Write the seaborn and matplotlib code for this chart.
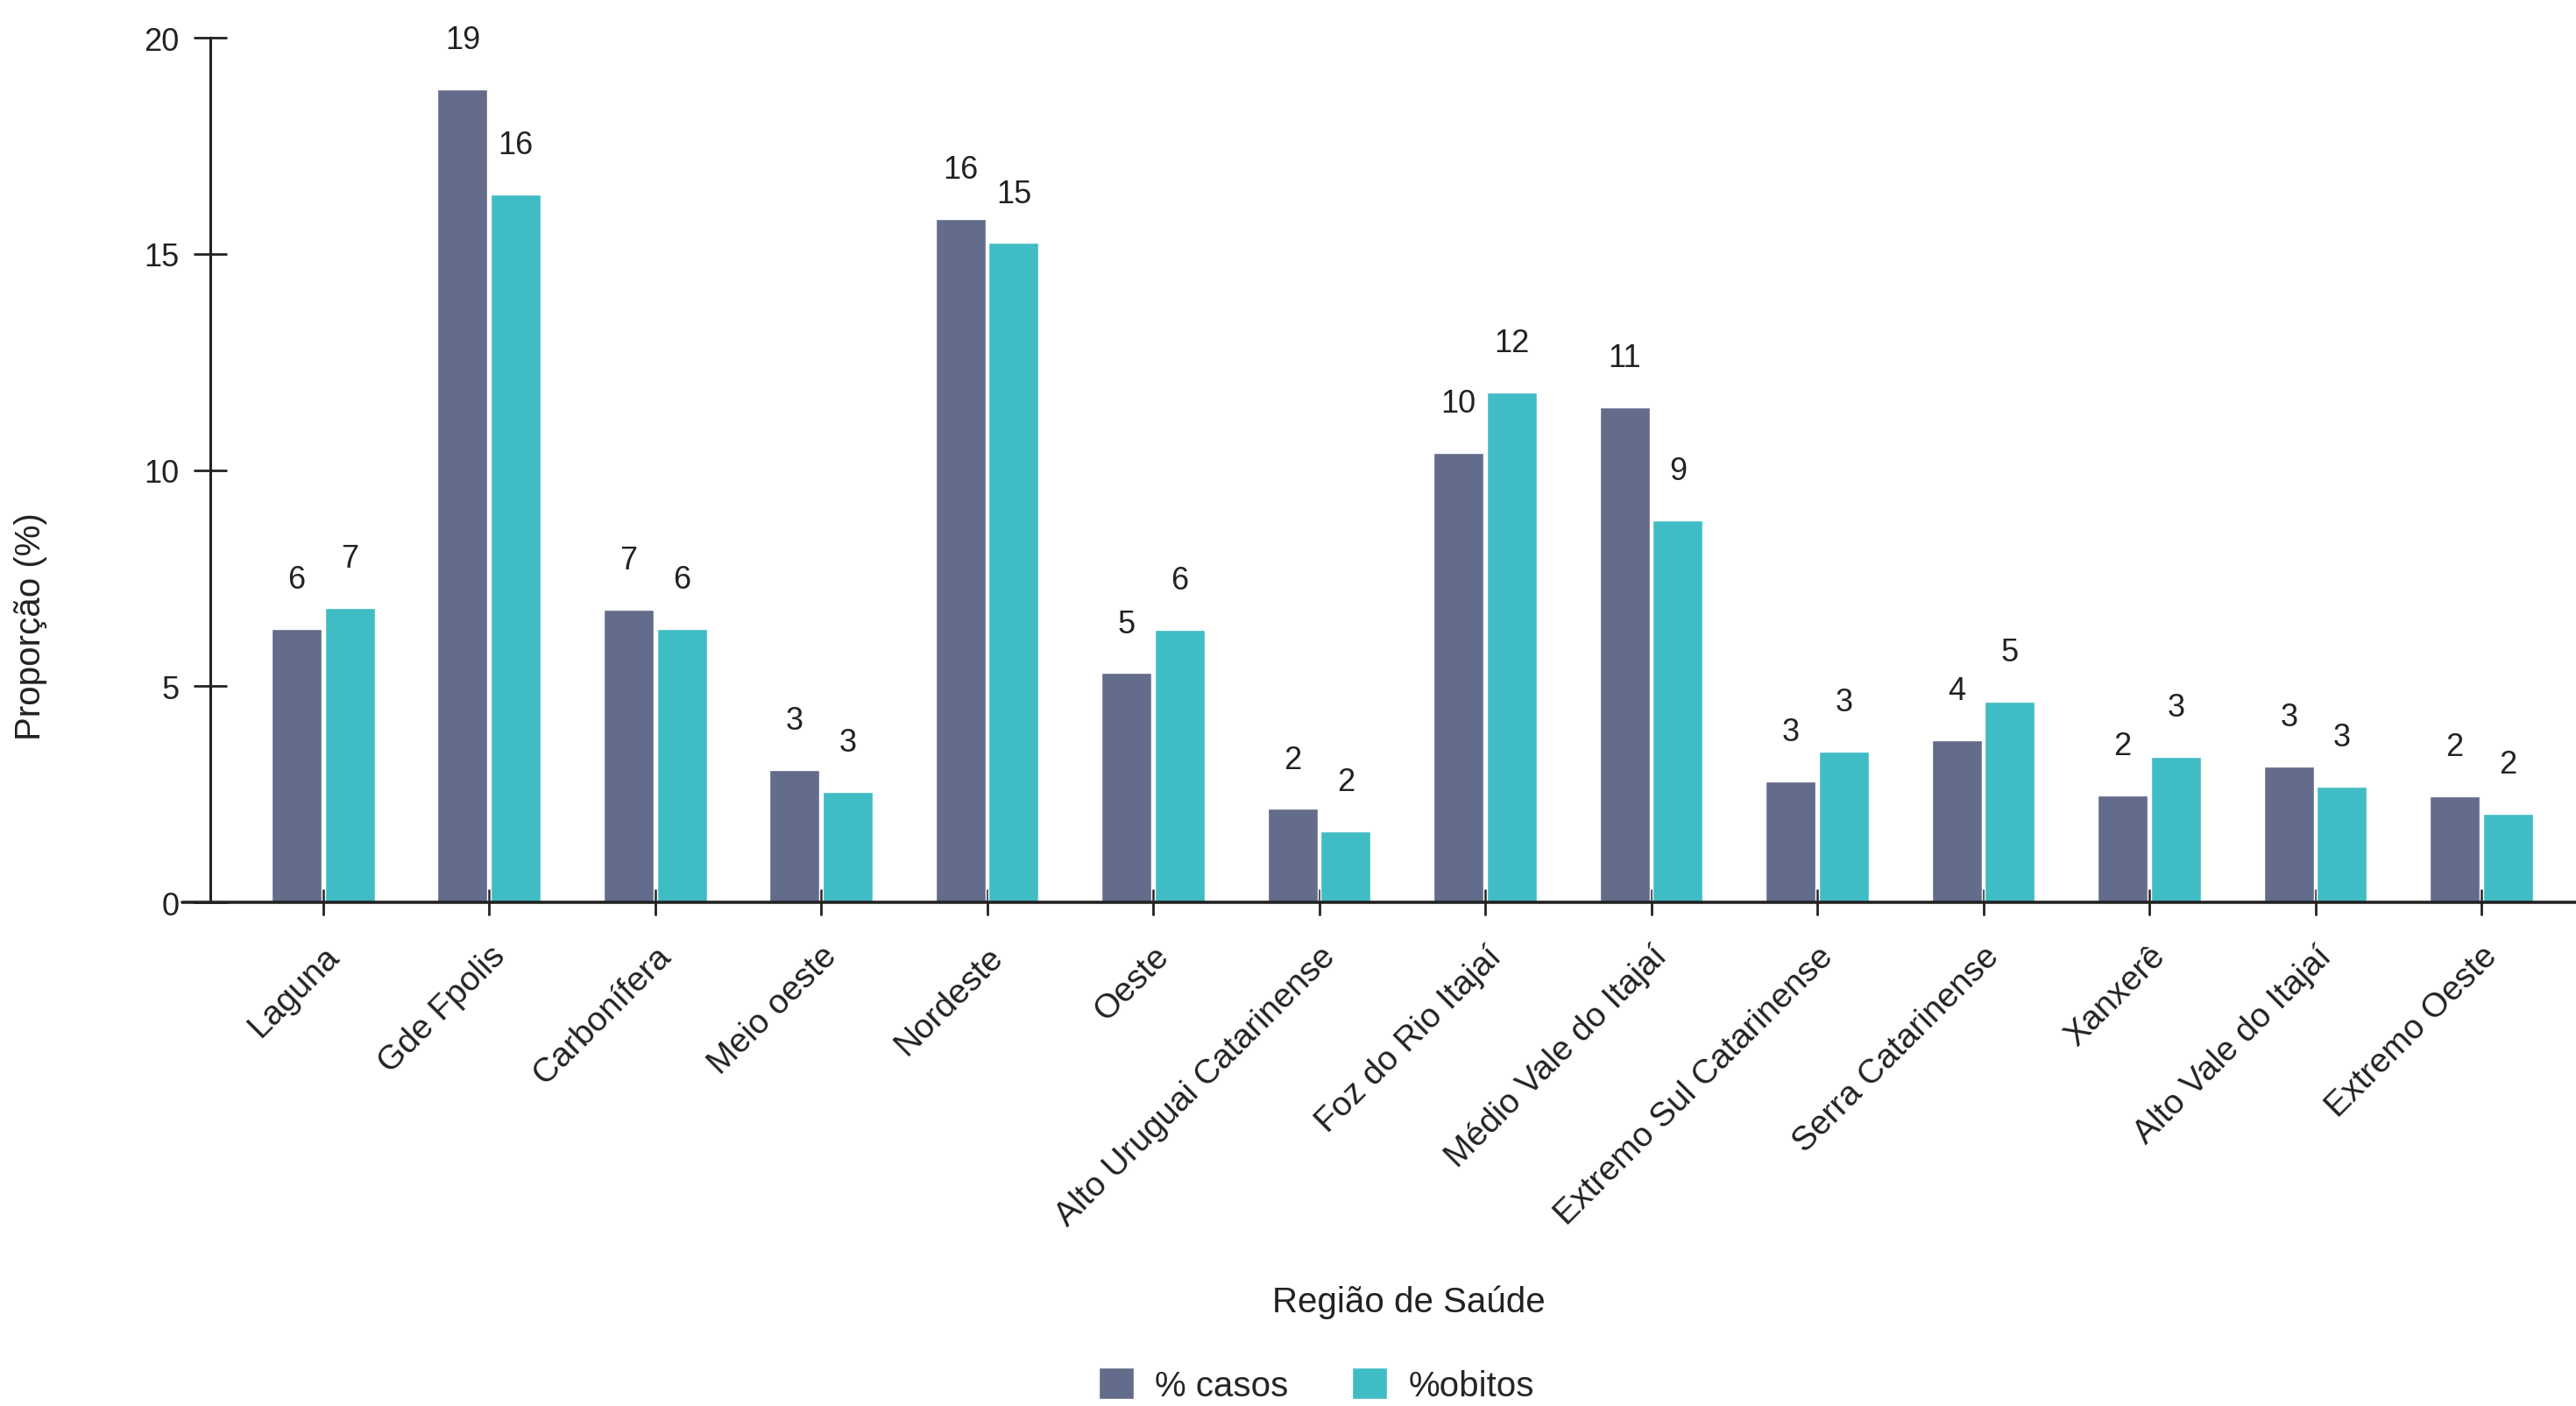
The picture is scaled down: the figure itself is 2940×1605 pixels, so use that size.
import pandas as pd
import matplotlib.pyplot as plt
import seaborn as sns
from matplotlib.patches import Patch

# data
regioes = ['Laguna', 'Gde Fpolis', 'Carbonífera', 'Meio oeste', 'Nordeste', 'Oeste',
           'Alto Uruguai Catarinense', 'Foz do Rio Itajaí', 'Médio Vale do Itajaí',
           'Extremo Sul Catarinense', 'Serra Catarinense', 'Xanxerê',
           'Alto Vale do Itajaí', 'Extremo Oeste']
casos = [6.32, 18.8, 6.77, 3.07, 15.8, 5.3, 2.16, 10.4, 11.45, 2.8, 3.75, 2.48, 3.15, 2.45]
obitos = [6.81, 16.37, 6.32, 2.55, 15.25, 6.3, 1.65, 11.8, 8.83, 3.48, 4.65, 3.36, 2.68, 2.05]
series = ['% casos', '%obitos']
cores = ['#636C8A', '#40BCC4']

df = pd.DataFrame({
    'regiao': regioes * 2,
    'valor': casos + obitos,
    'serie': [series[0]] * len(regioes) + [series[1]] * len(regioes),
})

sns.set_style('white')
plt.rcParams['font.family'] = ['Liberation Sans', 'DejaVu Sans']

fig = plt.figure(figsize=(29.4, 16.06), dpi=100)
ax = fig.add_axes([0.0816, 0.358, 0.9184, 0.6146])

sns.barplot(data=df, x='regiao', y='valor', hue='serie', palette=cores,
            width=0.64, gap=0.06, ax=ax, saturation=1, legend=False)

for cont in ax.containers:
    ax.bar_label(cont, fmt='%.0f', padding=28, fontsize=26, color='#222222')

ax.set_ylim(0, 20)
ax.set_xlim(-0.68, 13.57)
ax.set_yticks([0, 5, 10, 15, 20])

sns.despine(ax=ax, top=True, right=True)
ax.spines['left'].set_linewidth(2.2)
ax.spines['left'].set_color('#222222')
ax.spines['bottom'].set_visible(False)
# x axis line reaching a little left of the y spine
ax.plot([-0.012, 1.0], [0, 0], transform=ax.transAxes, color='#222222',
        lw=2.6, clip_on=False, zorder=5)

ax.tick_params(axis='y', direction='inout', length=27, width=2, color='#222222',
               labelsize=26, pad=12, labelcolor='#222222', left=True)
ax.tick_params(axis='x', direction='inout', length=22, width=2, color='#222222',
               labelsize=28, pad=20, labelcolor='#222222', bottom=True)

plt.setp(ax.get_xticklabels(), rotation=45, ha='right', rotation_mode='anchor')

ax.set_xlabel('')
ax.set_ylabel('Proporção (%)', fontsize=29, color='#222222')
ax.yaxis.set_label_coords(-0.069, 0.32)

fig.text(0.547, 0.074, 'Região de Saúde', ha='center', va='center',
         fontsize=29, color='#222222')

handles = [Patch(facecolor=c, label=s) for c, s in zip(cores, series)]
fig.legend(handles=handles, loc='center', bbox_to_anchor=(0.511, 0.015), ncol=2,
           frameon=False, fontsize=29, handlelength=1.0, handleheight=1.0,
           columnspacing=1.8, handletextpad=0.6)

fig.savefig('out.png', dpi=100)
